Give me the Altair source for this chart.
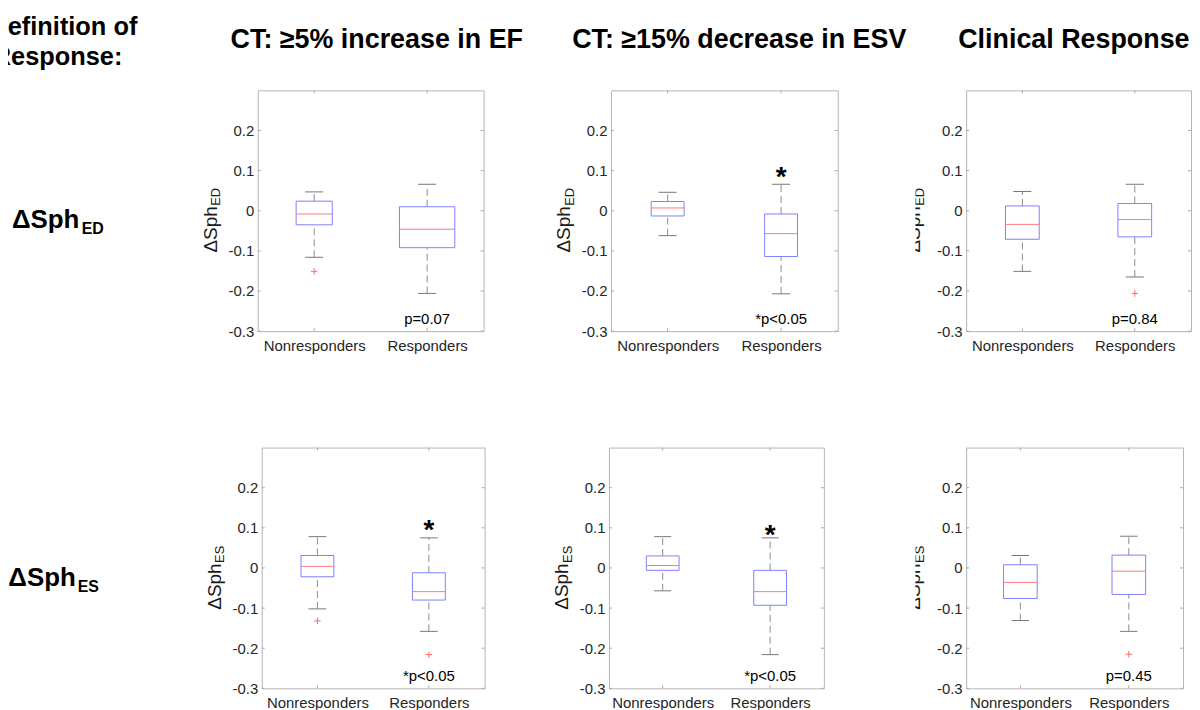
import altair as alt
import pandas as pd

# ---------------- data ----------------
groups = ["Nonresponders", "Responders"]
column_titles = ["CT: ≥5% increase in EF", "CT: ≥15% decrease in ESV", "Clinical Response"]
definition_lines = ["Definition of", "Response:"]
row_symbol = "ΔSph"
row_subscripts = ["ED", "ES"]
y_ticks = [-0.3, -0.2, -0.1, 0.0, 0.1, 0.2]

# five-number summaries: [lower whisker, Q1, median, Q3, upper whisker] for (Nonresponders, Responders)
ed_ef = [[-0.116, -0.035, -0.008, 0.024, 0.047], [-0.206, -0.092, -0.046, 0.010, 0.066]]
ed_esv = [[-0.062, -0.013, 0.007, 0.023, 0.046], [-0.207, -0.114, -0.057, -0.008, 0.066]]
ed_clin = [[-0.151, -0.071, -0.034, 0.012, 0.048], [-0.165, -0.065, -0.022, 0.018, 0.066]]
es_ef = [[-0.102, -0.022, 0.004, 0.031, 0.078], [-0.158, -0.080, -0.059, -0.012, 0.075]]
es_esv = [[-0.057, -0.006, 0.006, 0.030, 0.078], [-0.216, -0.093, -0.059, -0.006, 0.075]]
es_clin = [[-0.131, -0.076, -0.036, 0.008, 0.031], [-0.158, -0.066, -0.008, 0.032, 0.079]]
panel_stats = [ed_ef, ed_esv, ed_clin, es_ef, es_esv, es_clin]

# outliers: (group index, value)
panel_outliers = [[(0, -0.151)], [], [(1, -0.206)], [(0, -0.132), (1, -0.216)], [], [(1, -0.215)]]
panel_pvalues = ["p=0.07", "*p<0.05", "p=0.84", "*p<0.05", "*p<0.05", "p=0.45"]
panel_star = [None, 0.091, None, 0.103, 0.090, None]

# ---------------- styles / layout ----------------
FONT = "Liberation Sans"
LABEL = "#262626"
BOX_BLUE = "#7f7fff"
MED_RED = "#ff7a7a"
WHISK = "#8c8c8c"
CAP = "#777777"
OUT_RED = "#ff2a2a"
FRAME = "#b4b4b4"
TICKC = "#a8a8a8"
PH = 242
panel_widths = [227, 228, 226, 224, 216, 218]
box_widths = [[0.32, 0.49], [0.29, 0.29], [0.30, 0.30], [0.295, 0.295], [0.305, 0.305], [0.31, 0.31]]
CAP_HALF = 0.08
P_TEXT_Y = -0.282


def ytitle_layers(xb, sub, clip=False):
    main = alt.Chart(pd.DataFrame({"t": [row_symbol]})).mark_text(
        angle=270, align="left", baseline="alphabetic", fontSize=19, font=FONT,
        color="#1a1a1a", clip=clip
    ).encode(text="t:N", x=alt.value(xb), y=alt.value(163))
    subm = alt.Chart(pd.DataFrame({"t": [sub]})).mark_text(
        angle=270, align="left", baseline="alphabetic", fontSize=13, font=FONT,
        color="#1a1a1a", clip=clip
    ).encode(text="t:N", x=alt.value(xb + 3.5), y=alt.value(116))
    return [main, subm]


def panel(i, with_title=True):
    w = panel_widths[i]
    h = PH
    stats = panel_stats[i]
    sub = row_subscripts[i // 3]
    df = pd.DataFrame({
        "g": [1, 2],
        "lo": [s[0] for s in stats],
        "q1": [s[1] for s in stats],
        "med": [s[2] for s in stats],
        "q3": [s[3] for s in stats],
        "hi": [s[4] for s in stats],
        "hw": [bw / 2 for bw in box_widths[i]],
    })
    xs = alt.Scale(domain=[0.5, 2.5], nice=False, zero=False)
    ys = alt.Scale(domain=[-0.3, 0.3], nice=False, zero=False)
    xaxis = alt.Axis(values=[1, 2],
                     labelExpr=f"datum.value == 1 ? '{groups[0]}' : '{groups[1]}'",
                     title=None, ticks=False, domain=False, grid=False, labelAngle=0,
                     labelFontSize=15, labelFont=FONT, labelColor=LABEL, labelPadding=7)
    yaxis = alt.Axis(values=y_ticks,
                     labelExpr="datum.value == 0 ? '0' : (datum.value < 0 ? '-' : '') + format(abs(datum.value), '.1f')",
                     title=None, ticks=False, domain=False, grid=False,
                     labelFontSize=15, labelFont=FONT, labelColor=LABEL, labelPadding=4)

    def X(f):
        return alt.X(f, type="quantitative", scale=xs, axis=xaxis)

    def Y(f):
        return alt.Y(f, type="quantitative", scale=ys, axis=yaxis)

    base = alt.Chart(df).transform_calculate(
        xl="datum.g - datum.hw", xr="datum.g + datum.hw",
        cl=f"datum.g - {CAP_HALF}", cr=f"datum.g + {CAP_HALF}")

    layers = []
    layers.append(base.mark_rule(color=WHISK, strokeDash=[7, 4], strokeWidth=1).encode(
        x=X("g"), y=Y("lo"), y2=alt.Y2("q1")))
    layers.append(base.mark_rule(color=WHISK, strokeDash=[7, 4], strokeWidth=1).encode(
        x=X("g"), y=Y("q3"), y2=alt.Y2("hi")))
    layers.append(base.mark_rule(color=CAP, strokeWidth=1).encode(
        x=X("cl"), x2=alt.X2("cr"), y=Y("lo")))
    layers.append(base.mark_rule(color=CAP, strokeWidth=1).encode(
        x=X("cl"), x2=alt.X2("cr"), y=Y("hi")))
    layers.append(base.mark_rect(fill="white", fillOpacity=0, stroke=BOX_BLUE, strokeWidth=1).encode(
        x=X("xl"), x2=alt.X2("xr"), y=Y("q1"), y2=alt.Y2("q3")))
    layers.append(base.mark_rule(color=MED_RED, strokeWidth=1).encode(
        x=X("xl"), x2=alt.X2("xr"), y=Y("med")))

    outs = panel_outliers[i]
    if outs:
        odf = pd.DataFrame({"g": [o[0] + 1 for o in outs], "v": [o[1] for o in outs]})
        layers.append(alt.Chart(odf).mark_point(
            shape="M-1,0L1,0M0,-1L0,1", filled=False, color=OUT_RED, size=42, strokeWidth=1
        ).encode(x=X("g"), y=Y("v")))

    # inward ticks
    tdf = pd.DataFrame({"v": y_ticks})
    layers.append(alt.Chart(tdf).mark_rule(color=TICKC).encode(
        y=Y("v"), x=alt.value(0), x2=alt.value(3)))
    layers.append(alt.Chart(tdf).mark_rule(color=TICKC).encode(
        y=Y("v"), x=alt.value(w - 3), x2=alt.value(w)))
    gdf = pd.DataFrame({"g": [1, 2]})
    layers.append(alt.Chart(gdf).mark_rule(color=TICKC).encode(
        x=X("g"), y=alt.value(h - 3), y2=alt.value(h)))
    layers.append(alt.Chart(gdf).mark_rule(color=TICKC).encode(
        x=X("g"), y=alt.value(0), y2=alt.value(3)))

    # p-value text
    pdf = pd.DataFrame({"g": [2], "t": [panel_pvalues[i]], "y": [P_TEXT_Y]})
    layers.append(alt.Chart(pdf).mark_text(
        fontSize=15, font=FONT, color="black", baseline="alphabetic", align="center"
    ).encode(x=X("g"), y=Y("y"), text="t:N"))

    if panel_star[i] is not None:
        sdf = pd.DataFrame({"g": [2], "s": [panel_star[i]], "t": ["*"]})
        layers.append(alt.Chart(sdf).mark_text(
            fontSize=28, font=FONT, fontWeight="bold", color="black",
            baseline="alphabetic", align="center", dy=12
        ).encode(x=X("g"), y=Y("s"), text="t:N"))

    if with_title:
        layers += ytitle_layers(-41, sub)

    return alt.layer(*layers).properties(
        width=w, height=h, view=alt.ViewBackground(stroke=FRAME, strokeWidth=1))


def spacer(w, h=40):
    return alt.Chart(pd.DataFrame({"t": [""]})).mark_text().encode(text="t:N").properties(width=w, height=h)


def title_clip(sub):
    return alt.layer(*ytitle_layers(5, sub, clip=True)).properties(width=51, height=PH)


def row_label(k, x0, xs, w, h):
    main = alt.Chart(pd.DataFrame({"t": [row_symbol]})).mark_text(
        align="left", baseline="alphabetic", fontSize=26, fontWeight="bold", font=FONT, color="black"
    ).encode(text="t:N", x=alt.value(x0), y=alt.value(138.7))
    subm = alt.Chart(pd.DataFrame({"t": [row_subscripts[k]]})).mark_text(
        align="left", baseline="alphabetic", fontSize=16, fontWeight="bold", font=FONT, color="black"
    ).encode(text="t:N", x=alt.value(xs), y=alt.value(144.7))
    return alt.layer(main, subm).properties(width=w, height=h)


def header():
    layers = []
    tdf = pd.DataFrame({"t": [definition_lines[0]]})
    layers.append(alt.Chart(tdf).mark_text(
        align="right", baseline="alphabetic", fontSize=25.5, fontWeight="bold", font=FONT,
        color="black", clip=True).encode(text="t:N", x=alt.value(130), y=alt.value(25)))
    tdf = pd.DataFrame({"t": [definition_lines[1]]})
    layers.append(alt.Chart(tdf).mark_text(
        align="right", baseline="alphabetic", fontSize=25.5, fontWeight="bold", font=FONT,
        color="black", clip=True).encode(text="t:N", x=alt.value(115), y=alt.value(55)))
    for t, x in zip(column_titles, [223.7, 567, 955]):
        layers.append(alt.Chart(pd.DataFrame({"t": [t]})).mark_text(
            align="left", baseline="alphabetic", fontSize=27, fontWeight="bold", font=FONT,
            color="black").encode(text="t:N", x=alt.value(x), y=alt.value(38)))
    return alt.layer(*layers).properties(width=1180, height=80)


row1 = alt.hconcat(
    row_label(0, 4, 74, 251, 358), panel(0), spacer(128), panel(1), spacer(78),
    title_clip(row_subscripts[0]), panel(2, with_title=False),
    spacing=0, bounds="flush")
row2 = alt.hconcat(
    row_label(1, 0.3, 70, 255, PH), panel(3), spacer(125), panel(4), spacer(92),
    title_clip(row_subscripts[1]), panel(5, with_title=False),
    spacing=0, bounds="flush")

chart = alt.vconcat(header(), row1, row2, spacing=0).properties(padding=0).configure_view(stroke=None)

chart.save("out.html", embed_options={"renderer": "svg", "actions": False})
